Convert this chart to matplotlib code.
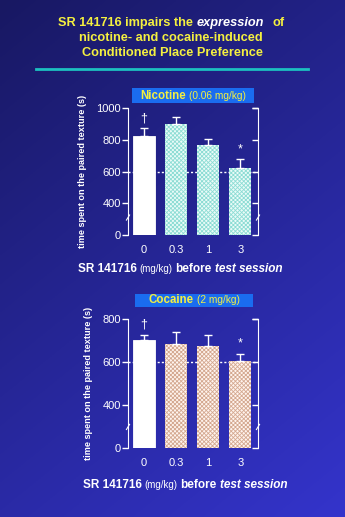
import numpy as np
import matplotlib
matplotlib.use("Agg")
import matplotlib.pyplot as plt
from matplotlib.patches import Rectangle
from matplotlib.lines import Line2D
import matplotlib.transforms as mtransforms

plt.rcParams['font.family'] = ['Liberation Sans', 'DejaVu Sans']
plt.rcParams['hatch.linewidth'] = 0.6

# data
doses = ['0', '0.3', '1', '3']
nic_mean = [822, 897, 770, 622]
nic_sem = [49, 47, 36, 55]
coc_mean = [702, 682, 676, 605]
coc_sem = [24, 59, 50, 34]
nic_marks = ['\u2020', '', '', '*']
coc_marks = ['\u2020', '', '', '*']

W, H = 345, 517
fig = plt.figure(figsize=(W / 100, H / 100), dpi=100)

# background gradient, dark navy top-left to bright blue bottom-right
bg = fig.add_axes([0, 0, 1, 1], zorder=-10)
gx, gy = np.meshgrid(np.linspace(0, 1, 200), np.linspace(0, 1, 300))
t = 0.35 * gx + 0.65 * gy
c0 = np.array([0x18, 0x18, 0x62]) / 255
c1 = np.array([0x34, 0x34, 0xcc]) / 255
img = c0[None, None, :] * (1 - t[..., None]) + c1[None, None, :] * t[..., None]
bg.imshow(img, aspect='auto', extent=[0, 1, 1, 0])
bg.set_xlim(0, 1)
bg.set_ylim(1, 0)
bg.axis('off')

YELLOW = '#f4f040'


def px(x, y):
    # pixel coords (from top-left) to figure fraction
    return x / W, 1 - y / H


def rich_text(xc, y, parts):
    # draw a row of differently styled pieces, centred on pixel xc
    renderer = fig.canvas.get_renderer()
    items = []
    total = 0
    for s, props, gap in parts:
        t = fig.text(0, 0, s, va='baseline', ha='left', **props)
        w = t.get_window_extent(renderer).width
        items.append((t, w, gap))
        total += w + gap
    total -= items[-1][2]
    x = xc - total / 2
    for t, w, gap in items:
        t.set_position(px(x, y))
        x += w + gap


# heading
head = dict(color=YELLOW, fontsize=9.2, fontweight='bold')
rich_text(171, 26, [("SR 141716 impairs the", head, 4),
                    ("expression", dict(head, color='white', style='italic'), 8),
                    ("of", head, 0)])
rich_text(171, 41, [("nicotine- and cocaine-induced", head, 0)])
rich_text(173, 56, [("Conditioned Place Preference", head, 0)])
fig.add_artist(Line2D([36 / W, 308 / W], [1 - 69 / H, 1 - 69 / H], color='#1cc0c0', lw=2))


def panel(rect, means, sems, marks, top, ticks, face, hatch_col, label_box, break_y):
    ax = fig.add_axes(rect)
    x = np.arange(len(doses))
    floor = 200
    heights = [m - floor for m in means]
    ax.bar(x[0], heights[0], bottom=floor, width=0.68, color='white', edgecolor='white', lw=0.6, zorder=2)
    ax.bar(x[1:], heights[1:], bottom=floor, width=0.68, color=face, edgecolor=hatch_col,
           hatch='xxxxxxxx', lw=0, zorder=2)
    ax.errorbar(x, means, yerr=[[0] * len(sems), sems], fmt='none', ecolor='white',
                elinewidth=1, capsize=3, capthick=1, zorder=3)
    for xi, m, s, mk in zip(x, means, sems, marks):
        if mk:
            ax.annotate(mk, (xi, m + s), xytext=(0, 3), textcoords='offset points',
                        ha='center', va='bottom', color='white', fontsize=9)
    ax.axhline(600, color='white', ls=(0, (1.5, 1.5)), lw=1, zorder=1)
    ax.set_xlim(-0.5, 3.55)
    ax.set_ylim(floor, top)
    ax.patch.set_visible(False)
    for s in ['top', 'bottom', 'right']:
        ax.spines[s].set_visible(False)
    ax.spines['left'].set_color('white')
    ax.set_yticks(ticks)
    ax.set_yticklabels(['0'] + [str(v) for v in ticks[1:]])
    ax.tick_params(axis='y', colors='white', labelsize=8, length=4, width=1, direction='out', pad=1)
    ax.set_xticks(x)
    ax.set_xticklabels(doses)
    ax.tick_params(axis='x', length=0, labelsize=8, labelcolor='white', pad=7)
    ax.set_ylabel('time spent on the paired texture (s)', color='white', fontsize=6.6,
                  fontweight='bold', labelpad=7)

    # right-hand bracket axis
    ax2 = ax.twinx()
    ax2.set_ylim(floor, top)
    for s in ['top', 'bottom', 'left']:
        ax2.spines[s].set_visible(False)
    ax2.spines['right'].set_color('white')
    ax2.set_yticks(ticks + [top])
    ax2.set_yticklabels([])
    ax2.tick_params(axis='y', colors='white', length=4, width=1, direction='in')

    # axis break marks
    for a, xa in [(ax, 0.0), (ax2, 1.0)]:
        tr = mtransforms.blended_transform_factory(a.transAxes, a.transData)
        a.plot([xa - 0.012, xa + 0.012], [break_y - (top - floor) * 0.02, break_y + (top - floor) * 0.02],
               color='white', lw=0.8, transform=tr, clip_on=False)

    # dose title box
    bx0, by0, bx1, by1, tx, name, dose = label_box
    fig.add_artist(Rectangle(px(bx0, by1), (bx1 - bx0) / W, (by1 - by0) / H,
                             facecolor='#1a6cf0', edgecolor='none', transform=fig.transFigure))
    rich_text(tx, by1 - 4, [(name, dict(color=YELLOW, fontsize=8.3, fontweight='bold'), 3),
                            (dose, dict(color=YELLOW, fontsize=7.3), 0)])
    return ax


panel([128 / W, (H - 235) / H, 130 / W, 127 / H], nic_mean, nic_sem, nic_marks, 1000,
      [200, 400, 600, 800, 1000], '#eafbf8', '#8cdcd4',
      (132, 88, 254, 103, 193, 'Nicotine', '(0.06 mg/kg)'), 310)
panel([128 / W, (H - 448) / H, 130 / W, 129 / H], coc_mean, coc_sem, coc_marks, 800,
      [200, 400, 600, 800], '#fff4ee', '#d4a890',
      (135, 294, 253, 307, 194, 'Cocaine', '(2 mg/kg)'), 298)

for xc, yb in [(180, 272), (185, 488)]:
    rich_text(xc, yb, [("SR 141716", dict(color='white', fontsize=8.5, fontweight='bold'), 3),
                       ("(mg/kg)", dict(color='white', fontsize=7), 3),
                       ("before", dict(color='white', fontsize=8.5, fontweight='bold'), 3),
                       ("test session", dict(color='white', fontsize=8.5, fontweight='bold', style='italic'), 0)])

fig.savefig('out.png', dpi=100)
